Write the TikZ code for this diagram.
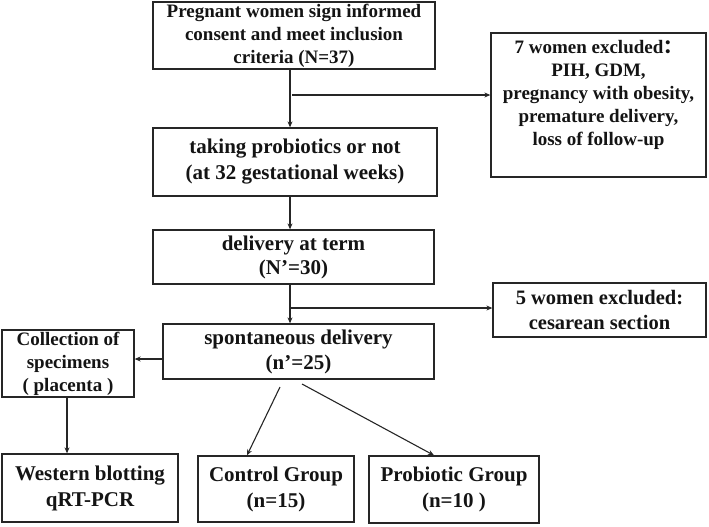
\documentclass[tikz,border=0pt]{standalone}
\usepackage{fontspec}
\setmainfont{Liberation Serif}
\newfontfamily\cjk{Noto Sans CJK SC}
\usetikzlibrary{arrows.meta,shadows,calc}
\begin{document}
\begin{tikzpicture}[x=1pt,y=-1pt,
  box/.style={draw=black!85, line width=1.3pt, fill=white, align=center, inner sep=0pt, text=black!92,
    drop shadow={shadow xshift=1.3pt, shadow yshift=-1.3pt, opacity=0.35}},
  fa/.style={font=\fontsize{19}{23}\selectfont\bfseries},
  fb/.style={font=\fontsize{21}{26}\selectfont\bfseries},
  arr/.style={draw=black!85, line width=1.1pt, -{Stealth[length=6pt,width=5pt]}}]
\useasboundingbox (0,0) rectangle (709,527);

\node[box, fa, minimum width=282, minimum height=67] (b1) at (294,35.5)
  {Pregnant women sign informed\\consent and meet inclusion\\criteria (N=37)};
\node[box, minimum width=215, minimum height=144,
  label={[fa, align=center, text=black!92, anchor=north, yshift=-4pt]north:{7 women excluded{\cjk\bfseries ：}\\PIH, GDM,\\pregnancy with obesity,\\premature delivery,\\loss of follow-up}}] (ex7) at (598.5,105) {};
\node[box, fb, minimum width=284, minimum height=68] (b2) at (295,162)
  {taking probiotics or not\\(at 32 gestational weeks)};
\node[box, minimum width=281, minimum height=54, font=\fontsize{21}{24}\selectfont\bfseries] (b3) at (293.5,257)
  {delivery at term\\(N’=30)};
\node[box, minimum width=213, minimum height=54, font=\fontsize{20.5}{25}\selectfont\bfseries] (ex5) at (599.5,310)
  {5 women excluded:\\cesarean section};
\node[box, minimum width=271, minimum height=55, font=\fontsize{21}{25}\selectfont\bfseries] (b4) at (298.5,351.5)
  {spontaneous delivery\\(n’=25)};
\node[box, fa, minimum width=132, minimum height=67] (coll) at (68,363.5)
  {Collection of\\specimens\\( placenta )};
\node[box, fb, minimum width=176, minimum height=68] (west) at (90,488)
  {Western blotting\\qRT-PCR};
\node[box, fb, minimum width=156, minimum height=66] (ctrl) at (276,489)
  {Control Group\\(n=15)};
\node[box, fb, minimum width=170, minimum height=67] (prob) at (454,489.5)
  {Probiotic Group\\(n=10 )};

\coordinate (cx) at (290,0);
\coordinate (j1) at (292,95);
\coordinate (j2) at (290,308);
\coordinate (j3) at (0,359);
\coordinate (cx2) at (67,0);
\coordinate (s1) at (280,387);
\coordinate (e1) at (247,0);
\coordinate (s2) at (302,384);
\coordinate (e2) at (434,0);

\draw[arr] (b1.south -| cx) -- (b2.north -| cx);
\draw[arr] (j1) -- (j1 -| ex7.west);
\draw[arr] (b2.south -| cx) -- (b3.north -| cx);
\draw[arr] (b3.south -| cx) -- (b4.north -| cx);
\draw[arr] (j2) -- (j2 -| ex5.west);
\draw[arr] (b4.west |- j3) -- (coll.east |- j3);
\draw[arr] (coll.south -| cx2) -- (west.north -| cx2);
\draw[arr] (s1) -- (ctrl.north -| e1);
\draw[arr] (s2) -- (prob.north -| e2);
\end{tikzpicture}
\end{document}
